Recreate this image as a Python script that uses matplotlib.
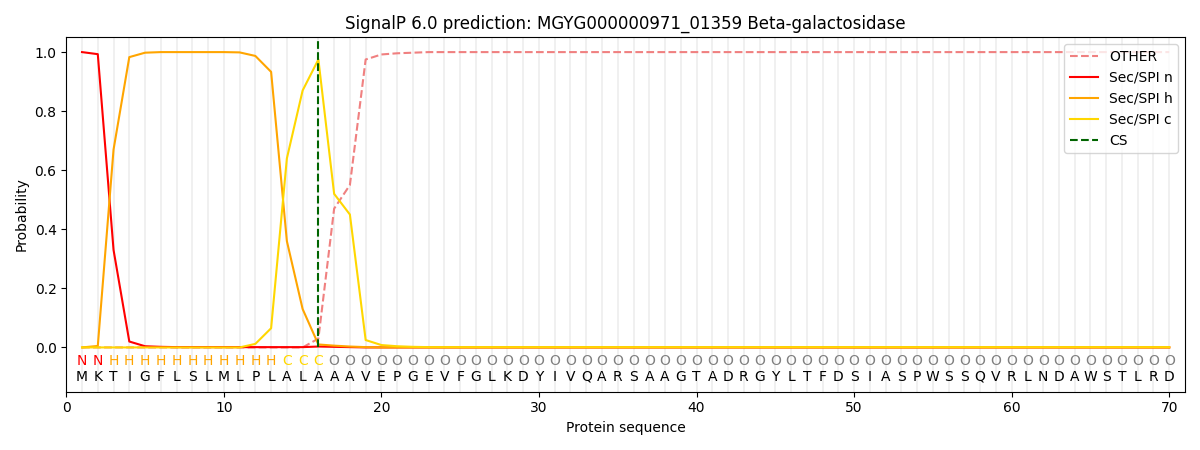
import numpy as np
import matplotlib
matplotlib.use("Agg")
import matplotlib.pyplot as plt

sequence = list("MKTIGFLSLMLPLALAAAVEPGEVFGLKDYIVQARSAAGTADRGYLTFDSIASPWSSQVRLNDAWSTLRD")
labels = list("NN" + "H" * 11 + "CCC" + "O" * 54)
cs_pos = 16

sp_n = [1.0, 0.993, 0.33, 0.02, 0.004, 0.002, 0.001, 0.001, 0.001, 0.001,
        0.001, 0.001, 0.001, 0.001, 0.001, 0.003, 0.002, 0.001] + [0.0] * 52
sp_h = [0.0, 0.005, 0.67, 0.983, 0.998, 1.0, 1.0, 1.0, 1.0, 1.0,
        0.999, 0.987, 0.933, 0.36, 0.13, 0.01, 0.006, 0.003, 0.001] + [0.0] * 51
sp_c = [0.0] * 11 + [0.012, 0.065, 0.64, 0.87, 0.975, 0.52, 0.45, 0.025, 0.008,
                     0.004, 0.002] + [0.001] * 48
other = [0.0] * 15 + [0.03, 0.47, 0.55, 0.975, 0.992, 0.996, 0.998] + [1.0] * 48

x = np.arange(1, len(sequence) + 1)
label_colors = {"N": "red", "H": "orange", "C": "gold", "O": "gray"}

fig, ax = plt.subplots(figsize=(12, 4.5), dpi=100)
for xi in x:
    ax.axvline(xi, color="#eeeeee", lw=1.2, zorder=0)

ax.plot(x, other, "--", color="lightcoral", label="OTHER")
ax.plot(x, sp_n, color="red", label="Sec/SPI n")
ax.plot(x, sp_h, color="orange", label="Sec/SPI h")
ax.plot(x, sp_c, color="gold", label="Sec/SPI c")
ax.vlines(cs_pos, 0, 1.04, colors="darkgreen", linestyles="--", label="CS")

for xi, lab, aa in zip(x, labels, sequence):
    ax.text(xi, -0.047, lab, color=label_colors[lab], ha="center", va="center", fontsize=10)
    ax.text(xi, -0.099, aa, color="black", ha="center", va="center", fontsize=10)

ax.set_xlim(0, 71)
ax.set_ylim(-0.15, 1.05)
ax.set_xlabel("Protein sequence")
ax.set_ylabel("Probability")
ax.set_title("SignalP 6.0 prediction: MGYG000000971_01359 Beta-galactosidase")
ax.legend(loc="upper right")
fig.tight_layout()
fig.savefig("out.png")
